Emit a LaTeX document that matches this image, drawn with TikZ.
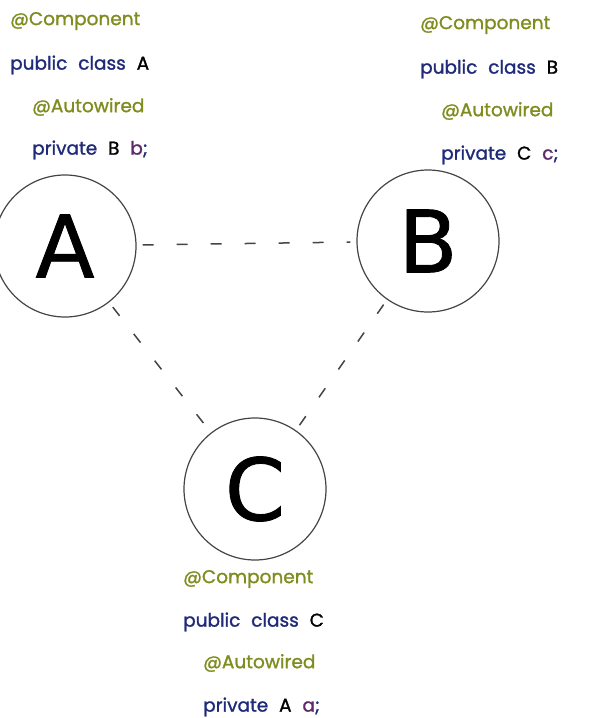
\documentclass[tikz,border=0pt]{standalone}
\usepackage{fontspec}
\setmainfont{Poppins}
\newfontfamily\codefont[FakeBold=1.3, WordSpace=2.2]{Poppins}
\newfontfamily\bigletter[FakeBold=1]{DejaVu Sans}
\definecolor{annot}{HTML}{7F8C1E}
\definecolor{kword}{HTML}{1F2A78}
\definecolor{varname}{HTML}{5E2A6A}
\definecolor{edge}{HTML}{444444}
\tikzset{
  bean/.style={circle, draw=edge, line width=1.2pt, minimum size=142pt,
    inner sep=0pt, font=\bigletter\fontsize{86}{86}\selectfont},
  codeline/.style={anchor=west, inner sep=0pt, font=\codefont\fontsize{18.5}{18.5}\selectfont},
  link/.style={draw=edge, line width=1.5pt, dash pattern=on 11pt off 23pt, shorten <=6pt, shorten >=6pt}
}
\begin{document}
\begin{tikzpicture}[x=1pt, y=-1pt]
  \useasboundingbox (0,0) rectangle (600,718);
  % Beans
  \node[bean] (A) at (65,246) {A};
  \node[bean] (B) at (428,241) {B};
  \node[bean] (C) at (255,489) {C};
  % Bean A
  \node[codeline, text=annot] (annA) at (10,21) {@Component};
  \node[codeline, text=kword] (clsA) at (10,65) {public class \textcolor{black}{A}};
  \node[codeline, text=annot] (autoA) at (32,107) {@Autowired};
  \node[codeline, text=kword] (fldA) at (32,150) {private \textcolor{black}{B} \textcolor{varname}{b};};
  % Bean B
  \node[codeline, text=annot] (annB) at (420,25) {@Component};
  \node[codeline, text=kword] (clsB) at (420,69) {public class \textcolor{black}{B}};
  \node[codeline, text=annot] (autoB) at (441,111) {@Autowired};
  \node[codeline, text=kword] (fldB) at (441,155) {private \textcolor{black}{C} \textcolor{varname}{c};};
  % Bean C
  \node[codeline, text=annot] (annC) at (183,579) {@Component};
  \node[codeline, text=kword] (clsC) at (183,622) {public class \textcolor{black}{C}};
  \node[codeline, text=annot] (autoC) at (203,663) {@Autowired};
  \node[codeline, text=kword] (fldC) at (203,707) {private \textcolor{black}{A} \textcolor{varname}{a};};
  % Dependencies
  \draw[link] (A) -- (B);
  \draw[link] (A) -- (C);
  \draw[link] (B) -- (C);
\end{tikzpicture}
\end{document}
